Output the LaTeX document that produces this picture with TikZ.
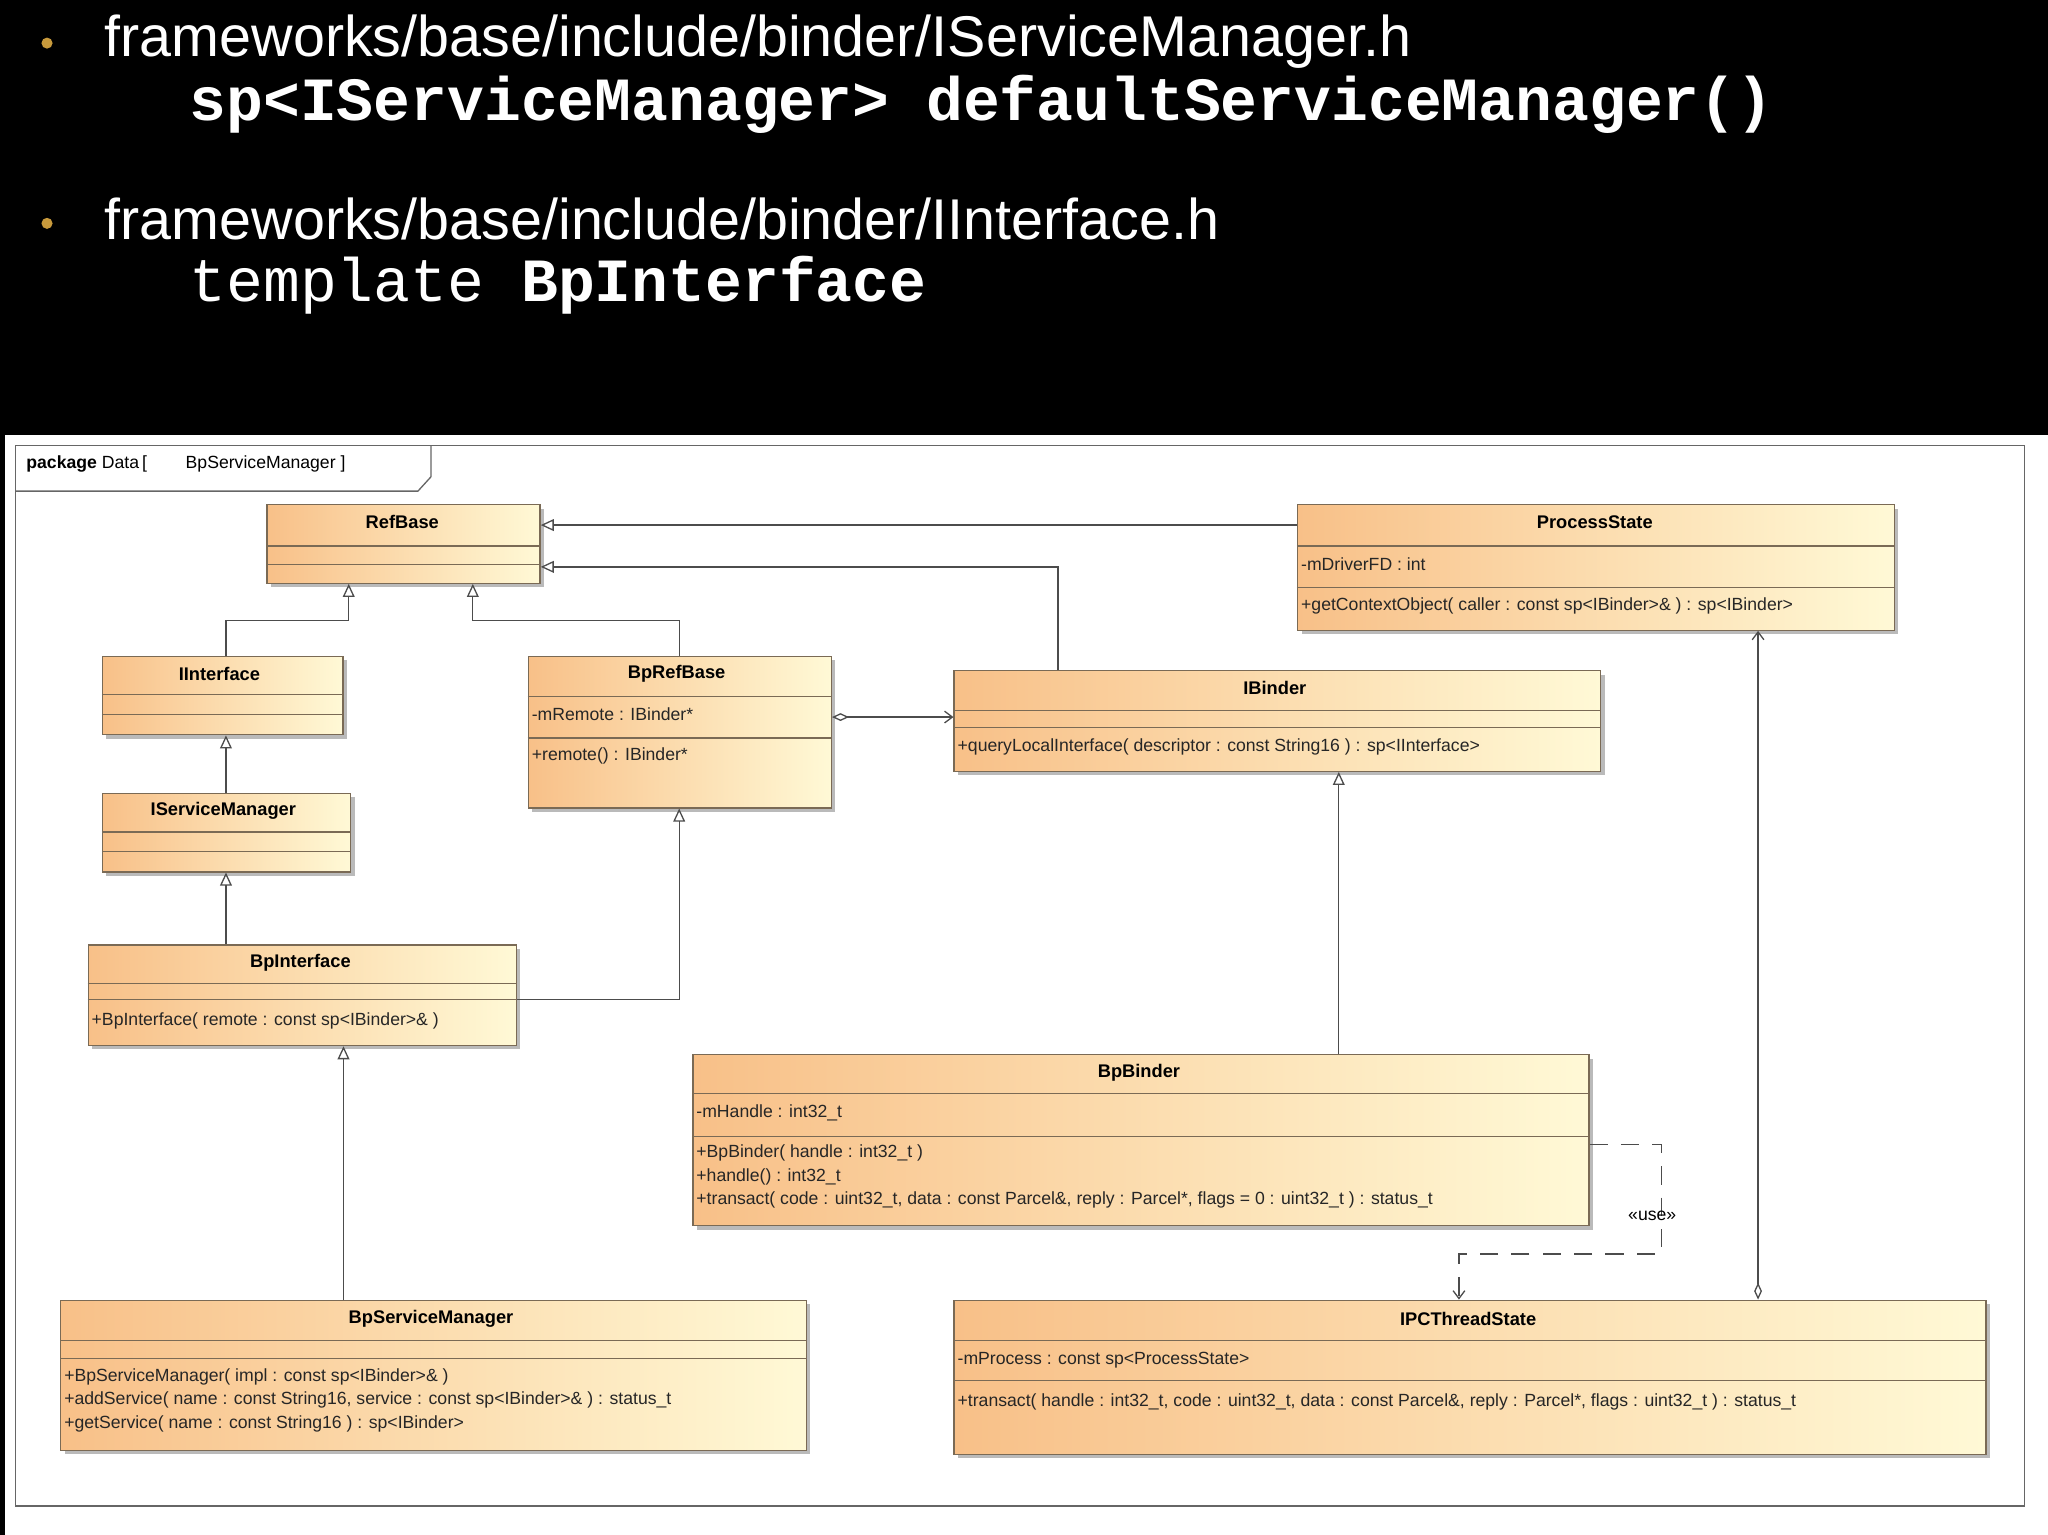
\documentclass[tikz,border=0pt]{standalone}
\usepackage{fontspec}
\setmainfont{Liberation Sans}
\newfontfamily\mono{Liberation Mono}
\usetikzlibrary{arrows.meta,shadows}
\definecolor{bord}{HTML}{7A6A55}
\definecolor{lorange}{HTML}{F8C088}
\definecolor{lyellow}{HTML}{FFF9D6}
\definecolor{bul}{HTML}{C89A3C}
\tikzset{
  x=1pt,y=-1pt,
  ubox/.style={draw=bord,line width=1pt,left color=lorange,right color=lyellow,
    drop shadow={shadow xshift=3pt,shadow yshift=-3pt,fill=black!45,opacity=.6},
    anchor=north west,inner sep=0pt},
  uline/.style={draw=bord,line width=0.9pt},
  hd/.style={font=\fontsize{14}{16}\selectfont\bfseries,anchor=center,inner sep=0pt},
  tx/.style={font=\fontsize{13.5}{16}\selectfont,anchor=west,inner sep=0pt,text=black!85},
  conn/.style={draw=black!70,line width=1pt},
  inh/.style={conn,-{Triangle[open,length=10pt,width=9pt,fill=white]}},
  agg/.style={conn,{Diamond[open,length=13pt,width=6pt,fill=white]}-{Straight Barb[length=6pt,width=9pt]}},
  big/.style={font=\fontsize{44}{50}\selectfont,text=white,anchor=west,inner sep=0pt},
  code/.style={font=\mono\fontsize{47}{50}\selectfont,text=white,anchor=west,inner sep=0pt},
}
\newcommand\ubox[5]{\node[ubox,minimum width={(#4-#2)*1pt},minimum height={(#5-#3)*1pt}] (#1) at (#2,#3) {};}
\newcommand\usep[3]{\draw[uline] (#1.west |- 0,#2) -- (#1.east |- 0,#2);\draw[uline] (#1.west |- 0,#3) -- (#1.east |- 0,#3);}
\begin{document}
\begin{tikzpicture}
\useasboundingbox (0,0) rectangle (1568,1175);
\fill[black] (0,0) rectangle (1568,1175);
\fill[white] (4,333) rectangle (1568,1175);
% header text
\node[circle,fill=bul,inner sep=3pt] (b1) at (36,33) {};
\node[circle,fill=bul,inner sep=3pt] (b2) at (36,171) {};
\node[big] (t1) at (80,32) {frameworks/base/include/binder/IServiceManager.h};
\node[code] (t2) at (145,80) {\bfseries sp<IServiceManager> defaultServiceManager()};
\node[big] (t3) at (80,168) {frameworks/base/include/binder/IInterface.h};
\node[code] (t4) at (145,218) {template \textbf{BpInterface}};
% package frame
\draw[draw=black!60,line width=1pt] (12,341) rectangle (1550,1153);
\draw[draw=black!60,line width=1pt] (12,376) -- (320,376) -- (330,365) -- (330,341);
\node[anchor=west,inner sep=0pt,font=\fontsize{13.5}{16}\selectfont] (pk) at (20,355) {\textbf{package} Data\,[\hspace{2.2em}BpServiceManager ]};
% boxes
\ubox{RB}{204}{386}{413}{446}\usep{RB}{418}{432}
\node[hd] (RBt) at (308,400) {RefBase};
\ubox{PS}{993}{386}{1450}{482}\usep{PS}{418}{450}
\node[hd] (PSt) at (1221,400) {ProcessState};
\node[tx] (PSa) at (996,432) {-mDriverFD : int};
\node[tx] (PSo) at (996,464) {+getContextObject( caller : const sp<IBinder>\& ) : sp<IBinder>};
\ubox{II}{78}{502}{262}{562}\usep{II}{532}{547}
\node[hd] (IIt) at (168,516) {IInterface};
\ubox{BR}{404}{502}{636}{618}\usep{BR}{533}{565}
\node[hd] (BRt) at (518,516) {BpRefBase};
\node[tx] (BRa) at (407,547) {-mRemote : IBinder*};
\node[tx] (BRo) at (407,579) {+remote() : IBinder*};
\ubox{IB}{730}{513}{1225}{590}\usep{IB}{544}{557}
\node[hd] (IBt) at (976,527) {IBinder};
\node[tx] (IBo) at (733,572) {+queryLocalInterface( descriptor : const String16 ) : sp<IInterface>};
\ubox{ISM}{78}{607}{268}{667}\usep{ISM}{637}{652}
\node[hd] (ISMt) at (171,621) {IServiceManager};
\ubox{BI}{67}{723}{395}{800}\usep{BI}{753}{765}
\node[hd] (BIt) at (230,737) {BpInterface};
\node[tx] (BIo) at (70,782) {+BpInterface( remote : const sp<IBinder>\& )};
\ubox{BB}{530}{807}{1216}{938}\usep{BB}{837}{870}
\node[hd] (BBt) at (872,821) {BpBinder};
\node[tx] (BBa) at (533,852) {-mHandle : int32\_t};
\node[tx,align=left,font=\fontsize{13.5}{18}\selectfont] (BBo) at (533,901) {+BpBinder( handle : int32\_t )\\+handle() : int32\_t\\+transact( code : uint32\_t, data : const Parcel\&, reply : Parcel*, flags = 0 : uint32\_t ) : status\_t};
\ubox{BSM}{46}{995}{617}{1110}\usep{BSM}{1026}{1040}
\node[hd] (BSMt) at (330,1010) {BpServiceManager};
\node[tx,align=left,font=\fontsize{13.5}{18}\selectfont] (BSMo) at (49,1072) {+BpServiceManager( impl : const sp<IBinder>\& )\\+addService( name : const String16, service : const sp<IBinder>\& ) : status\_t\\+getService( name : const String16 ) : sp<IBinder>};
\ubox{IPC}{730}{995}{1520}{1113}\usep{IPC}{1026}{1057}
\node[hd] (IPCt) at (1124,1010) {IPCThreadState};
\node[tx] (IPCa) at (733,1041) {-mProcess : const sp<ProcessState>};
\node[tx] (IPCo) at (733,1073) {+transact( handle : int32\_t, code : uint32\_t, data : const Parcel\&, reply : Parcel*, flags : uint32\_t ) : status\_t};
% connectors
\draw[inh] (PS.west |- 0,402) -- (RB.east |- 0,402);
\draw[inh] (IB.north -| 810,0) -- (810,434) -- (RB.east |- 0,434);
\draw[inh] (II.north -| 173,0) -- (173,475) -- (267,475) -- (RB.south -| 267,0);
\draw[inh] (BR.north -| 520,0) -- (520,475) -- (362,475) -- (RB.south -| 362,0);
\draw[inh] (ISM.north -| 173,0) -- (II.south -| 173,0);
\draw[inh] (BI.north -| 173,0) -- (ISM.south -| 173,0);
\draw[inh] (BI.east |- 0,765) -- (520,765) -- (BR.south -| 520,0);
\draw[inh] (BSM.north -| 263,0) -- (BI.south -| 263,0);
\draw[inh] (BB.north -| 1025,0) -- (IB.south -| 1025,0);
\draw[agg] (BR.east |- 0,549) -- (IB.west |- 0,549);
\draw[agg] (IPC.north -| 1346,0) -- (PS.south -| 1346,0);
\draw[conn,dash pattern=on 14pt off 10pt,-{Straight Barb[length=6pt,width=9pt]}] (BB.east |- 0,876) -- (1272,876) -- (1272,960) -- (1117,960) -- (IPC.north -| 1117,0);
\node[font=\fontsize{13.5}{16}\selectfont,inner sep=1pt] (use) at (1265,931) {<<use>>};
\end{tikzpicture}
\end{document}
